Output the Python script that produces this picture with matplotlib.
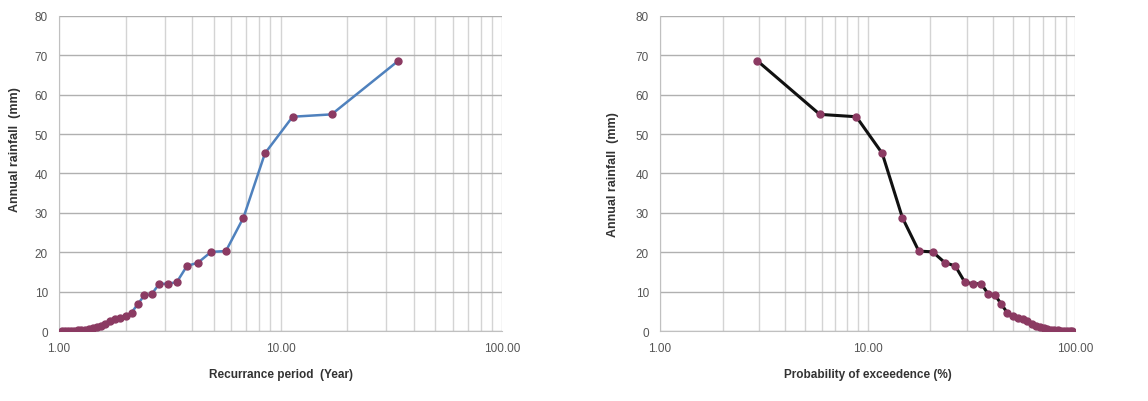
import matplotlib.pyplot as plt
import numpy as np
from matplotlib.ticker import LogLocator, FixedLocator, FixedFormatter, NullFormatter

# annual rainfall sorted from largest, rank m = 1..33
rain = [68.6, 55.0, 54.4, 45.1, 28.8, 20.3, 20.1, 17.4, 16.5, 12.4, 12.0,
        12.0, 9.3, 9.1, 6.8, 4.7, 3.8, 3.4, 3.0, 2.5, 1.9, 1.4, 1.0, 0.7,
        0.4, 0.3, 0.2, 0.2, 0.1, 0.1, 0.0, 0.0, 0.0]
rank = list(range(1, 34))
# Weibull plotting position, n = 33
period = [34.0 / m for m in rank]          # recurrence period (year)
exceed = [100.0 * m / 34.0 for m in rank]  # probability of exceedence (%)

xticks = [1, 10, 100]
xticklabels = ['1.00', '10.00', '100.00']
yticks = [0, 10, 20, 30, 40, 50, 60, 70, 80]

plt.rcParams['font.family'] = ['Liberation Sans', 'DejaVu Sans']

fig = plt.figure(figsize=(11.48, 4.02), dpi=100)
ax1 = fig.add_axes([0.0514, 0.174, 0.386, 0.784])
ax2 = fig.add_axes([0.575, 0.174, 0.3615, 0.784])

marker_col = '#8b3a62'

ax1.plot(period, rain, '-', color='#4f81bd', lw=1.8, marker='o', ms=5,
         mfc=marker_col, mec=marker_col, zorder=3)
ax2.plot(exceed, rain, '-', color='#111111', lw=2.2, marker='o', ms=5,
         mfc=marker_col, mec=marker_col, zorder=3)

for ax, xl in [(ax1, 'Recurrance period  (Year)'), (ax2, 'Probability of exceedence (%)')]:
    ax.set_xscale('log')
    ax.set_xlim(1, 100)
    ax.set_ylim(0, 80)
    ax.xaxis.set_major_locator(FixedLocator(xticks))
    ax.xaxis.set_major_formatter(FixedFormatter(xticklabels))
    ax.xaxis.set_minor_locator(LogLocator(base=10, subs=np.arange(2, 10)))
    ax.xaxis.set_minor_formatter(NullFormatter())
    ax.set_yticks(yticks)
    ax.grid(True, which='major', axis='y', color='#b0b0b0', lw=1.0)
    ax.grid(True, which='both', axis='x', color='#d4d4d4', lw=1.0)
    ax.set_axisbelow(True)
    for s in ['top', 'right']:
        ax.spines[s].set_visible(False)
    for s in ['left', 'bottom']:
        ax.spines[s].set_color('#c0c0c0')
    ax.tick_params(which='both', length=0, colors='#555555', labelsize=8.5, pad=8)
    ax.set_xlabel(xl, fontsize=8.5, fontweight='bold', color='#333333', labelpad=10)
    ax.set_ylabel('Annual rainfall  (mm)', fontsize=9, fontweight='bold', color='#333333')

ax1.yaxis.set_label_coords(-0.085, 0.58)
ax2.yaxis.set_label_coords(-0.1, 0.5)

plt.savefig('out.png', dpi=100)
